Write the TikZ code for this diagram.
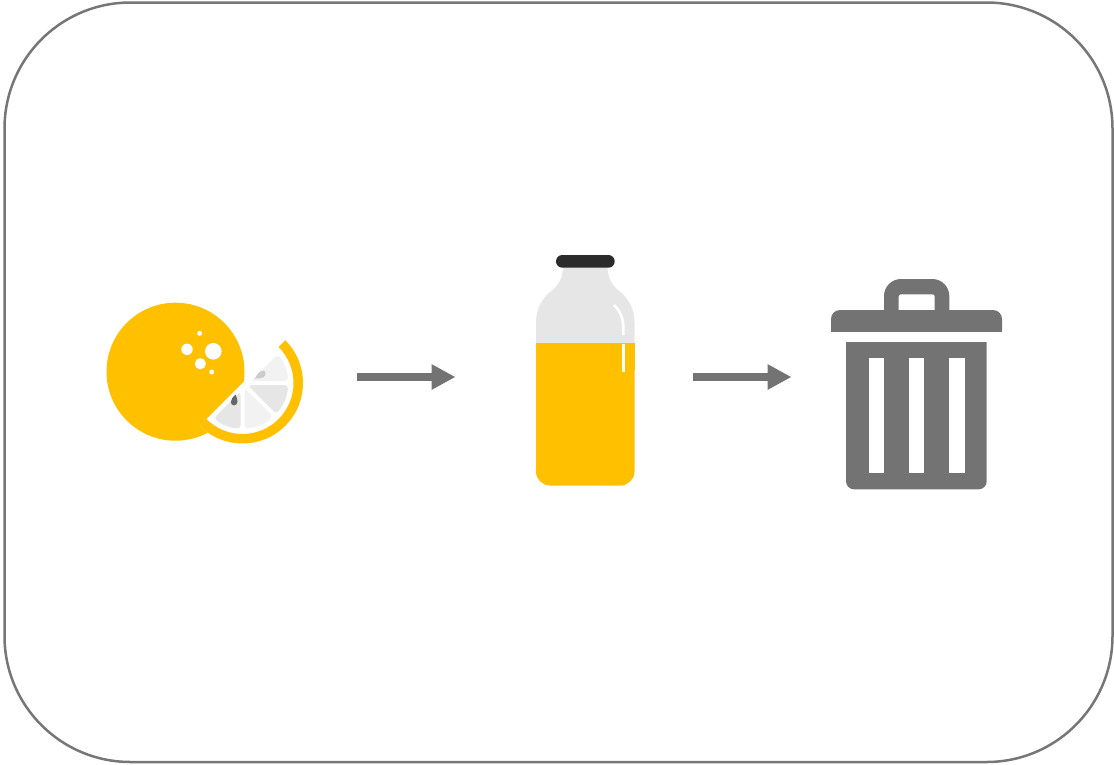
\documentclass[tikz,border=0pt]{standalone}
\usepackage{xcolor}
\usepackage{tikz}
\usetikzlibrary{arrows.meta}
\definecolor{juicecolor}{HTML}{FFC000}
\definecolor{greycolor}{HTML}{737373}
\definecolor{framecolor}{HTML}{767676}
\definecolor{glasscolor}{HTML}{E6E6E6}
\definecolor{palecolor}{HTML}{F2F2F2}
\definecolor{capcolor}{HTML}{2B2B2B}
\newcommand{\slicepart}[5]{%
    \fill[#5, rounded corners=3.5pt] ([shift={(#1:#2)}]slicec) -- ([shift={(#3:45.5)}]slicec)
        arc[start angle=#3, end angle=#4, radius=45.5] -- cycle;}

\begin{document}
\begin{tikzpicture}[x=1pt, y=-1pt,
    arr/.style={-{Triangle[length=24pt, width=24pt]}, line width=7.5pt, draw=greycolor},
    juice/.style={fill=juicecolor},
    bin/.style={fill=greycolor},
    hole/.style={fill=white},
    shine/.style={draw=white, line width=2.6pt}
]
    \useasboundingbox (0,0) rectangle (1114,764);
    \draw[framecolor, line width=2.5pt, rounded corners=126pt] (4.5,2.5) rectangle (1112.5,762);

    % Orange and its slice
    \coordinate (slicec) at (242.5,383);
    \fill[juice] (175.5,371.7) circle[radius=69];
    \fill[hole] (187,349.3) circle[radius=5.7];
    \fill[hole] (213.3,351.3) circle[radius=8.3];
    \fill[hole] (200.3,363.7) circle[radius=5.6];
    \fill[hole] (199.7,333.3) circle[radius=2.5];
    \fill[hole] (211.7,372) circle[radius=2.5];
    \fill[hole] ([shift={(135:60.5)}]slicec) arc[start angle=135, end angle=-45, radius=60.5] -- cycle;
    \fill[juice] ([shift={(135:60.5)}]slicec) arc[start angle=135, end angle=-45, radius=60.5]
        -- ([shift={(-45:51)}]slicec) arc[start angle=-45, end angle=135, radius=51] -- cycle;
    \slicepart{102}{8.7}{92.5}{129}{glasscolor}
    \slicepart{67.5}{5.75}{47.5}{87.5}{palecolor}
    \slicepart{22.5}{5.75}{2.5}{42.5}{glasscolor}
    \slicepart{-12}{8.7}{-2.5}{-39}{palecolor}
    % Seeds
    \fill[black!60] (235.5,394.5) .. controls (233,397) and (230.8,399) .. (230.8,402)
        .. controls (230.8,406.5) and (237.5,406.5) .. (237.5,401.5)
        .. controls (237.5,399) and (236.5,397) .. (235.5,394.5) -- cycle;
    \fill[black!20] (255,378.5) .. controls (257,374) and (260,370.5) .. (263.5,370.5)
        .. controls (266.5,370.5) and (266,376) .. (263,377.5)
        .. controls (260.5,378.5) and (258,378.5) .. (255,378.5) -- cycle;

    % Bottle
    \fill[glasscolor] (536,344) -- (536,322) .. controls (536,308) and (543,298) .. (550,292)
        .. controls (558,286) and (563,279) .. (563,266) -- (607.5,266)
        .. controls (607.5,279) and (612.5,286) .. (620.5,292)
        .. controls (627.5,298) and (634.5,308) .. (634.5,322) -- (634.5,344) -- cycle;
    \fill[juice, rounded corners=14pt] (536,343.3) -- (536,485.5) -- (634.5,485.5) -- (634.5,343.3) -- cycle;
    \fill[juice] (536,343.3) rectangle (634.5,370);
    \fill[capcolor, rounded corners=6.3pt] (556,255) rectangle (614.7,267.7);
    \draw[shine] (614,305) .. controls (620,311) and (623.3,318) .. (623.3,327) -- (623.3,335);
    \draw[shine] (623.3,343.5) -- (623.3,372);

    % Trash bin
    \fill[bin] (884,312) [rounded corners=17pt] -- (884,279) -- (949.3,279) [sharp corners] -- (949.3,312) -- cycle;
    \fill[hole] (898.7,311) [rounded corners=2.5pt] -- (898.7,294.3) -- (934.7,294.3) [sharp corners] -- (934.7,311) -- cycle;
    \fill[bin, rounded corners=9pt] (831,340) -- (831,310) -- (1002,310) -- (1002,340) -- cycle;
    \fill[hole] (825,331.7) rectangle (1008,345);
    \fill[bin, rounded corners=8pt] (846,330) -- (846,489.3) -- (986.7,489.3) -- (986.7,330) -- cycle;
    \fill[hole] (825,331.7) rectangle (1008,342);
    \foreach \slotx in {868.7,909,949.3}
        \fill[hole] (\slotx,357.7) rectangle ++(15.2,115.6);

    % Arrows
    \coordinate (orangeout) at (356.7,377);
    \coordinate (bottlein) at (455.5,377);
    \coordinate (bottleout) at (692.7,377);
    \coordinate (binin) at (791.5,377);
    \draw[arr] (orangeout) -- (bottlein);
    \draw[arr] (bottleout) -- (binin);
\end{tikzpicture}
\end{document}
